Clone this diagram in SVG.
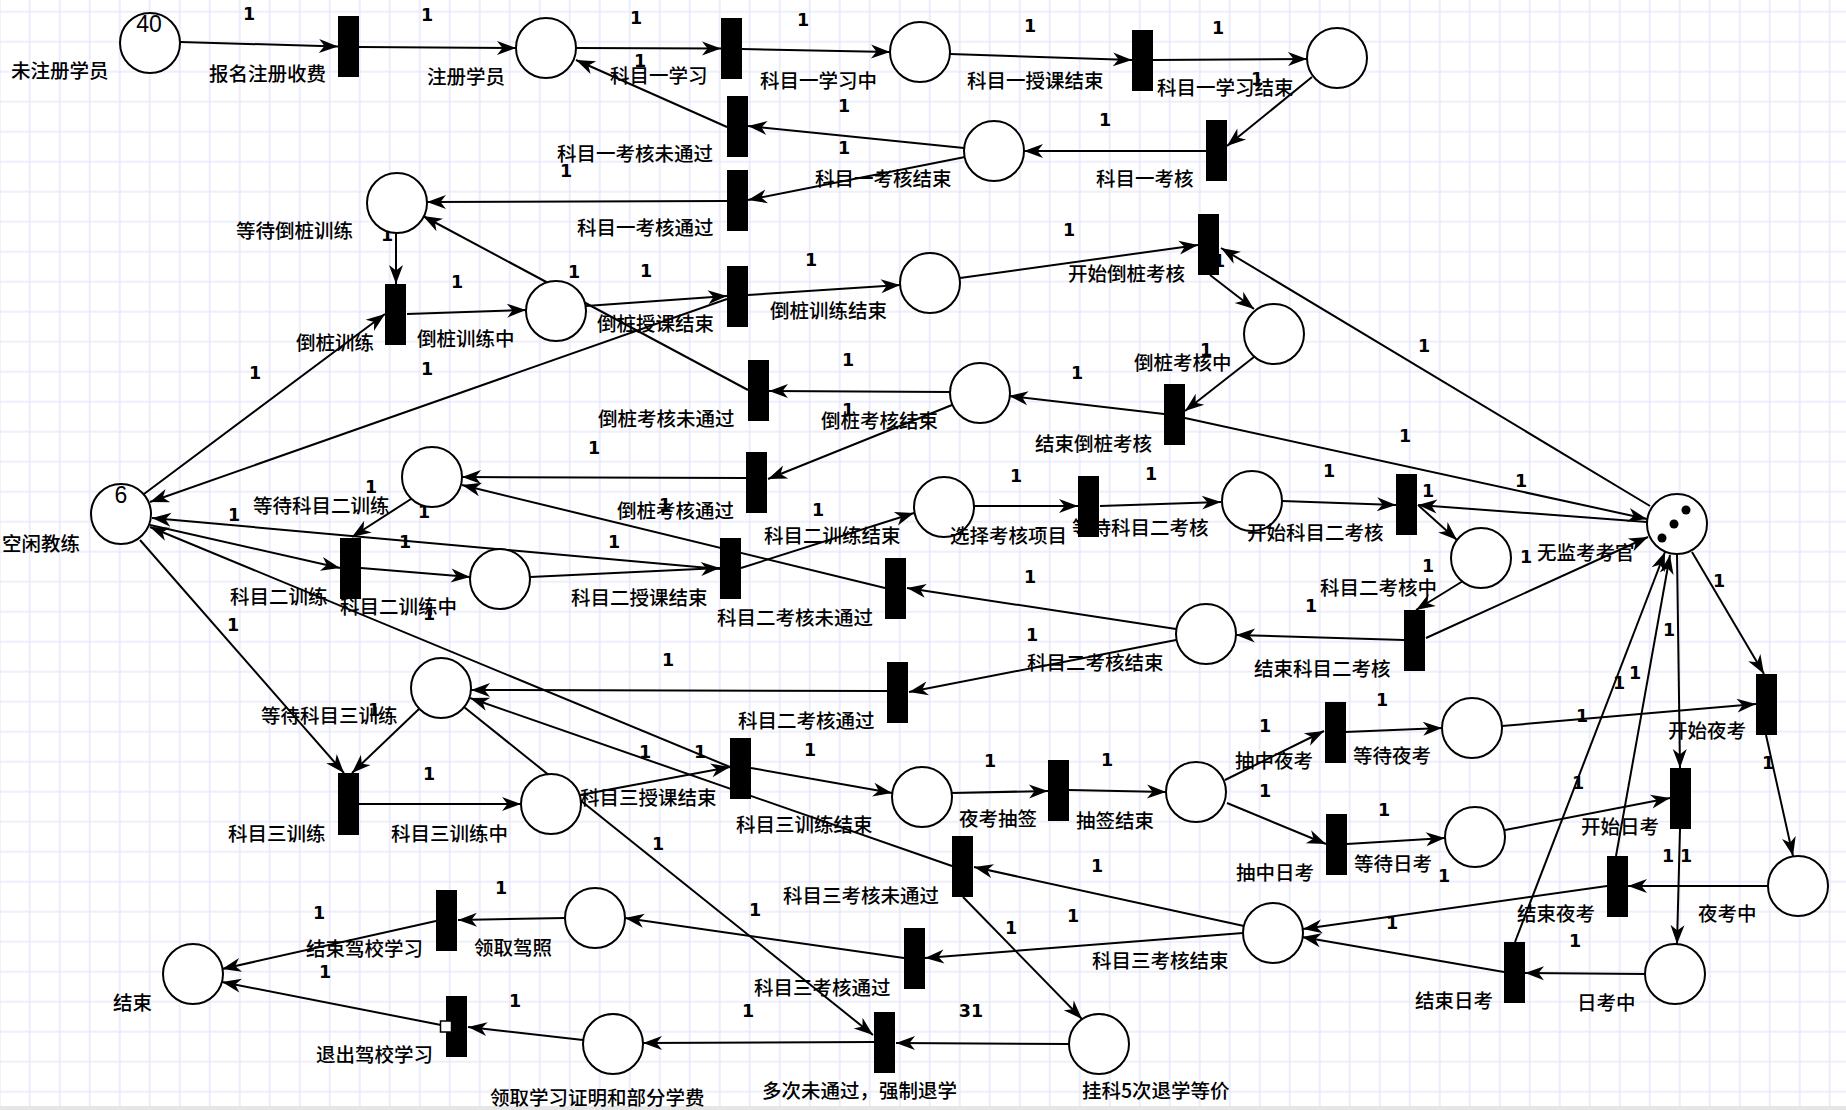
<svg xmlns="http://www.w3.org/2000/svg" width="1846" height="1110" viewBox="0 0 1846 1110">
<style>
.p{fill:#fff;stroke:#000;stroke-width:2}
.t{fill:#000}
.l{font-family:"Noto Sans CJK SC","Noto Sans",sans-serif;font-size:19.5px;font-weight:500;fill:#000}
.w{font-family:"DejaVu Sans",sans-serif;font-size:17.5px;font-weight:bold;fill:#000;text-anchor:middle}
.tk{font-family:"Liberation Sans",sans-serif;font-size:23px;fill:#000;text-anchor:middle}
#arcs path{stroke:#000;stroke-width:2;fill:none;marker-end:url(#ah)}
</style>
<defs>
<pattern id="grid" x="14.7" y="-3.3" width="30" height="30" patternUnits="userSpaceOnUse"><path d="M15 0V30M0 15H30" stroke="#e9e9fb" stroke-width="1.7" fill="none"/></pattern>
<marker id="ah" viewBox="-20 -8 21 16" refX="0" refY="0" markerWidth="21" markerHeight="16" markerUnits="userSpaceOnUse" orient="auto"><path d="M0,0 L-19,-7 L-13.5,0 L-19,7 Z" fill="#000"/></marker>
</defs>
<rect width="1846" height="1110" fill="#fff"/>
<rect width="1846" height="1110" fill="url(#grid)"/>
<rect y="1106" width="1846" height="4" fill="#e6e6e6"/>
<g id="arcs">
<path d="M180,42 L338,46.5"/>
<path d="M359,47 L516,48"/>
<path d="M576,48 L721,48.5"/>
<path d="M742,49 L890,52"/>
<path d="M950,54 L1132,60"/>
<path d="M1153,60 L1307,59"/>
<path d="M1312,77 L1227,146"/>
<path d="M1206,151 L1024,151"/>
<path d="M964,148 L748,126"/>
<path d="M965,157 L748,200"/>
<path d="M727,127 L576,60"/>
<path d="M727,201 L427,202"/>
<path d="M396,233 L396,284"/>
<path d="M407,314 L526,310"/>
<path d="M748,390 L423,216"/>
<path d="M586,306 L727,296"/>
<path d="M727,299 L150,502"/>
<path d="M144,494 L385,314"/>
<path d="M748,295 L900,285"/>
<path d="M960,278 L1198,245"/>
<path d="M1210,275 L1254,309"/>
<path d="M1650,506 L1221,248"/>
<path d="M1254,357 L1185,411"/>
<path d="M1185,418 L1647,519"/>
<path d="M1647,522 L1418,505"/>
<path d="M1426,638 L1648,537"/>
<path d="M1692,552 L1764,674"/>
<path d="M1677,554 L1680,768"/>
<path d="M1616,856 L1670,555"/>
<path d="M1515,942 L1665,552"/>
<path d="M950,392 L769,391"/>
<path d="M952,405 L768,479"/>
<path d="M1164,414 L1009,396"/>
<path d="M746,478 L462,477"/>
<path d="M885,588 L462,485"/>
<path d="M411,499 L352,537"/>
<path d="M361,568 L470,577"/>
<path d="M150,525 L340,568"/>
<path d="M720,569 L152,518"/>
<path d="M730,767 L150,527"/>
<path d="M140,540 L344,773"/>
<path d="M530,577 L720,568"/>
<path d="M741,568 L914,513"/>
<path d="M974,506 L1078,506"/>
<path d="M1100,506 L1221,502"/>
<path d="M1282,501 L1396,505"/>
<path d="M1418,505 L1457,540"/>
<path d="M1463,581 L1416,610"/>
<path d="M1404,640 L1236,635"/>
<path d="M1176,629 L907,588"/>
<path d="M1176,640 L909,692"/>
<path d="M887,691 L471,690"/>
<path d="M952,866 L470,698"/>
<path d="M419,709 L352,773"/>
<path d="M464,707 L873,1035"/>
<path d="M359,804 L521,804"/>
<path d="M580,795 L730,767"/>
<path d="M751,768 L892,793"/>
<path d="M952,793 L1048,791"/>
<path d="M1069,790 L1166,792"/>
<path d="M1225,780 L1324,731"/>
<path d="M1227,803 L1326,844"/>
<path d="M1345,732 L1442,728"/>
<path d="M1347,844 L1445,838"/>
<path d="M1502,726 L1756,704"/>
<path d="M1505,830 L1670,798"/>
<path d="M1766,735 L1793,856"/>
<path d="M1680,829 L1677,944"/>
<path d="M1768,886 L1628,886"/>
<path d="M1645,974 L1525,973"/>
<path d="M1607,886 L1303,929"/>
<path d="M1504,972 L1302,937"/>
<path d="M1244,926 L974,867"/>
<path d="M1243,933 L925,958"/>
<path d="M904,958 L625,918"/>
<path d="M963,897 L1082,1019"/>
<path d="M1069,1044 L896,1043"/>
<path d="M874,1042 L643,1043"/>
<path d="M583,1040 L468,1027"/>
<path d="M441,1025 L222,982"/>
<path d="M565,918 L458,920"/>
<path d="M436,921 L222,969"/>
<g id="weights">
<text class="w" x="249" y="20">1</text>
<text class="w" x="427" y="21">1</text>
<text class="w" x="636" y="24">1</text>
<text class="w" x="640" y="67">1</text>
<text class="w" x="803" y="26">1</text>
<text class="w" x="1030" y="32">1</text>
<text class="w" x="1218" y="34">1</text>
<text class="w" x="1257" y="85">1</text>
<text class="w" x="844" y="112">1</text>
<text class="w" x="566" y="177">1</text>
<text class="w" x="844" y="154">1</text>
<text class="w" x="1105" y="126">1</text>
<text class="w" x="387" y="241">1</text>
<text class="w" x="457" y="288">1</text>
<text class="w" x="574" y="278">1</text>
<text class="w" x="646" y="277">1</text>
<text class="w" x="811" y="266">1</text>
<text class="w" x="1069" y="236">1</text>
<text class="w" x="1219" y="267">1</text>
<text class="w" x="255" y="379">1</text>
<text class="w" x="427" y="375">1</text>
<text class="w" x="848" y="366">1</text>
<text class="w" x="1077" y="379">1</text>
<text class="w" x="1206" y="356">1</text>
<text class="w" x="1424" y="352">1</text>
<text class="w" x="594" y="454">1</text>
<text class="w" x="848" y="416">1</text>
<text class="w" x="1405" y="442">1</text>
<text class="w" x="371" y="493">1</text>
<text class="w" x="424" y="518">1</text>
<text class="w" x="234" y="521">1</text>
<text class="w" x="405" y="548">1</text>
<text class="w" x="614" y="548">1</text>
<text class="w" x="665" y="511">1</text>
<text class="w" x="818" y="516">1</text>
<text class="w" x="1016" y="482">1</text>
<text class="w" x="1151" y="480">1</text>
<text class="w" x="1329" y="477">1</text>
<text class="w" x="1428" y="497">1</text>
<text class="w" x="1521" y="487">1</text>
<text class="w" x="1526" y="563">1</text>
<text class="w" x="1428" y="572">1</text>
<text class="w" x="429" y="620">1</text>
<text class="w" x="233" y="631">1</text>
<text class="w" x="1030" y="583">1</text>
<text class="w" x="1032" y="641">1</text>
<text class="w" x="1311" y="612">1</text>
<text class="w" x="668" y="666">1</text>
<text class="w" x="1719" y="587">1</text>
<text class="w" x="1669" y="636">1</text>
<text class="w" x="1635" y="679">1</text>
<text class="w" x="1619" y="689">1</text>
<text class="w" x="1382" y="706">1</text>
<text class="w" x="1265" y="732">1</text>
<text class="w" x="1582" y="722">1</text>
<text class="w" x="374" y="716">1</text>
<text class="w" x="645" y="758">1</text>
<text class="w" x="700" y="758">1</text>
<text class="w" x="810" y="756">1</text>
<text class="w" x="429" y="780">1</text>
<text class="w" x="990" y="767">1</text>
<text class="w" x="1107" y="766">1</text>
<text class="w" x="1265" y="797">1</text>
<text class="w" x="1384" y="816">1</text>
<text class="w" x="1768" y="769">1</text>
<text class="w" x="1578" y="789">1</text>
<text class="w" x="658" y="850">1</text>
<text class="w" x="1097" y="872">1</text>
<text class="w" x="1444" y="882">1</text>
<text class="w" x="1668" y="862">1</text>
<text class="w" x="1686" y="862">1</text>
<text class="w" x="501" y="894">1</text>
<text class="w" x="319" y="919">1</text>
<text class="w" x="755" y="916">1</text>
<text class="w" x="1073" y="922">1</text>
<text class="w" x="1011" y="934">1</text>
<text class="w" x="1392" y="929">1</text>
<text class="w" x="1575" y="947">1</text>
<text class="w" x="325" y="978">1</text>
<text class="w" x="515" y="1007">1</text>
<text class="w" x="748" y="1017">1</text>
<text class="w" x="971" y="1017">31</text>
</g>
</g>
<g id="p1"><text class="l" x="11" y="78">未注册学员</text><circle class="p" cx="150" cy="43" r="30"/><text class="tk" x="149" y="32">40</text></g>
<g id="p2"><text class="l" x="427" y="84">注册学员</text><circle class="p" cx="546" cy="48" r="30"/></g>
<g id="p3"><text class="l" x="760" y="88">科目一学习中</text><circle class="p" cx="920" cy="52" r="30"/></g>
<g id="p4"><text class="l" x="1157" y="95">科目一学习结束</text><circle class="p" cx="1337" cy="58" r="30"/></g>
<g id="p5"><text class="l" x="815" y="186">科目一考核结束</text><circle class="p" cx="994" cy="151" r="30"/></g>
<g id="p6"><text class="l" x="236" y="238">等待倒桩训练</text><circle class="p" cx="397" cy="203" r="30"/></g>
<g id="p7"><text class="l" x="417" y="346">倒桩训练中</text><circle class="p" cx="556" cy="311" r="30"/></g>
<g id="p8"><text class="l" x="770" y="318">倒桩训练结束</text><circle class="p" cx="930" cy="283" r="30"/></g>
<g id="p9"><text class="l" x="1134" y="370">倒桩考核中</text><circle class="p" cx="1274" cy="334" r="30"/></g>
<g id="p10"><text class="l" x="821" y="428">倒桩考核结束</text><circle class="p" cx="980" cy="393" r="30"/></g>
<g id="p11"><text class="l" x="253" y="513">等待科目二训练</text><circle class="p" cx="432" cy="477" r="30"/></g>
<g id="p12"><text class="l" x="2" y="551">空闲教练</text><circle class="p" cx="121" cy="514" r="30"/><text class="tk" x="121" y="503">6</text></g>
<g id="p13"><text class="l" x="340" y="614">科目二训练中</text><circle class="p" cx="500" cy="579" r="30"/></g>
<g id="p14"><text class="l" x="764" y="543">科目二训练结束</text><circle class="p" cx="944" cy="507" r="30"/></g>
<g id="p15"><text class="l" x="1072" y="535">等待科目二考核</text><circle class="p" cx="1252" cy="501" r="30"/></g>
<g id="p16"><text class="l" x="1320" y="595">科目二考核中</text><circle class="p" cx="1481" cy="558" r="30"/></g>
<g id="p17"><text class="l" x="1537" y="560">无监考考官</text><circle class="p" cx="1677" cy="524" r="30"/><circle cx="1686" cy="510" r="4.5"/><circle cx="1674" cy="524" r="4.5"/><circle cx="1662" cy="538" r="4.5"/></g>
<g id="p18"><text class="l" x="1027" y="670">科目二考核结束</text><circle class="p" cx="1206" cy="634" r="30"/></g>
<g id="p19"><text class="l" x="261" y="723">等待科目三训练</text><circle class="p" cx="441" cy="688" r="30"/></g>
<g id="p20"><text class="l" x="391" y="841">科目三训练中</text><circle class="p" cx="551" cy="804" r="30"/></g>
<g id="p21"><text class="l" x="736" y="832">科目三训练结束</text><circle class="p" cx="922" cy="797" r="30"/></g>
<g id="p22"><text class="l" x="1076" y="828">抽签结束</text><circle class="p" cx="1196" cy="792" r="30"/></g>
<g id="p23"><text class="l" x="1353" y="763">等待夜考</text><circle class="p" cx="1472" cy="728" r="30"/></g>
<g id="p24"><text class="l" x="1354" y="871">等待日考</text><circle class="p" cx="1475" cy="837" r="30"/></g>
<g id="p25"><text class="l" x="1698" y="921">夜考中</text><circle class="p" cx="1798" cy="886" r="30"/></g>
<g id="p26"><text class="l" x="1577" y="1010">日考中</text><circle class="p" cx="1675" cy="974" r="30"/></g>
<g id="p27"><text class="l" x="1092" y="968">科目三考核结束</text><circle class="p" cx="1273" cy="933" r="30"/></g>
<g id="p28"><text class="l" x="474" y="955">领取驾照</text><circle class="p" cx="595" cy="918" r="30"/></g>
<g id="p29"><text class="l" x="113" y="1010">结束</text><circle class="p" cx="193" cy="974" r="30"/></g>
<g id="p30"><text class="l" x="490" y="1105">领取学习证明和部分学费</text><circle class="p" cx="613" cy="1044" r="30"/></g>
<g id="p31"><text class="l" x="1082" y="1098">挂科5次退学等价</text><circle class="p" cx="1099" cy="1044" r="30"/></g>
<g id="t1"><text class="l" x="209" y="81">报名注册收费</text><rect class="t" x="338" y="16" width="21" height="61"/></g>
<g id="t2"><text class="l" x="610" y="83">科目一学习</text><rect class="t" x="721" y="18" width="21" height="61"/></g>
<g id="t3"><text class="l" x="967" y="88">科目一授课结束</text><rect class="t" x="1132" y="30" width="21" height="61"/></g>
<g id="t4"><text class="l" x="1096" y="186">科目一考核</text><rect class="t" x="1206" y="120" width="21" height="61"/></g>
<g id="t5"><text class="l" x="557" y="161">科目一考核未通过</text><rect class="t" x="727" y="96" width="21" height="61"/></g>
<g id="t6"><text class="l" x="577" y="235">科目一考核通过</text><rect class="t" x="727" y="170" width="21" height="61"/></g>
<g id="t7"><text class="l" x="1068" y="281">开始倒桩考核</text><rect class="t" x="1198" y="214" width="21" height="61"/></g>
<g id="t8"><text class="l" x="296" y="350">倒桩训练</text><rect class="t" x="385" y="284" width="21" height="61"/></g>
<g id="t9"><text class="l" x="597" y="331">倒桩授课结束</text><rect class="t" x="727" y="266" width="21" height="61"/></g>
<g id="t10"><text class="l" x="1035" y="451">结束倒桩考核</text><rect class="t" x="1164" y="384" width="21" height="61"/></g>
<g id="t11"><text class="l" x="598" y="426">倒桩考核未通过</text><rect class="t" x="748" y="360" width="21" height="61"/></g>
<g id="t12"><text class="l" x="617" y="518">倒桩考核通过</text><rect class="t" x="746" y="452" width="21" height="61"/></g>
<g id="t13"><text class="l" x="230" y="604">科目二训练</text><rect class="t" x="340" y="538" width="21" height="61"/></g>
<g id="t14"><text class="l" x="571" y="605">科目二授课结束</text><rect class="t" x="720" y="538" width="21" height="61"/></g>
<g id="t15"><text class="l" x="950" y="543">选择考核项目</text><rect class="t" x="1078" y="476" width="21" height="61"/></g>
<g id="t16"><text class="l" x="717" y="625">科目二考核未通过</text><rect class="t" x="885" y="558" width="21" height="61"/></g>
<g id="t17"><text class="l" x="1247" y="540">开始科目二考核</text><rect class="t" x="1396" y="474" width="21" height="61"/></g>
<g id="t18"><text class="l" x="1254" y="676">结束科目二考核</text><rect class="t" x="1404" y="610" width="21" height="61"/></g>
<g id="t19"><text class="l" x="738" y="728">科目二考核通过</text><rect class="t" x="887" y="662" width="21" height="61"/></g>
<g id="t20"><text class="l" x="1668" y="738">开始夜考</text><rect class="t" x="1756" y="674" width="21" height="61"/></g>
<g id="t21"><text class="l" x="228" y="841">科目三训练</text><rect class="t" x="338" y="773" width="21" height="62"/></g>
<g id="t22"><text class="l" x="580" y="805">科目三授课结束</text><rect class="t" x="730" y="738" width="21" height="61"/></g>
<g id="t23"><text class="l" x="959" y="826">夜考抽签</text><rect class="t" x="1048" y="760" width="21" height="61"/></g>
<g id="t24"><text class="l" x="783" y="903">科目三考核未通过</text><rect class="t" x="952" y="836" width="21" height="61"/></g>
<g id="t25"><text class="l" x="754" y="995">科目三考核通过</text><rect class="t" x="904" y="928" width="21" height="61"/></g>
<g id="t26"><text class="l" x="762" y="1098">多次未通过，强制退学</text><rect class="t" x="874" y="1012" width="21" height="61"/></g>
<g id="t27"><text class="l" x="306" y="956">结束驾校学习</text><rect class="t" x="436" y="890" width="21" height="61"/></g>
<g id="t28"><text class="l" x="316" y="1062">退出驾校学习</text><rect class="t" x="446" y="996" width="21" height="61"/><rect x="440.5" y="1021" width="11" height="11" fill="#fff" stroke="#000" stroke-width="1.5"/></g>
<g id="t29"><text class="l" x="1235" y="768">抽中夜考</text><rect class="t" x="1325" y="702" width="21" height="61"/></g>
<g id="t30"><text class="l" x="1236" y="880">抽中日考</text><rect class="t" x="1326" y="814" width="21" height="61"/></g>
<g id="t31"><text class="l" x="1581" y="834">开始日考</text><rect class="t" x="1670" y="768" width="21" height="61"/></g>
<g id="t32"><text class="l" x="1517" y="921">结束夜考</text><rect class="t" x="1607" y="856" width="21" height="61"/></g>
<g id="t33"><text class="l" x="1415" y="1008">结束日考</text><rect class="t" x="1504" y="942" width="21" height="61"/></g>
</svg>
